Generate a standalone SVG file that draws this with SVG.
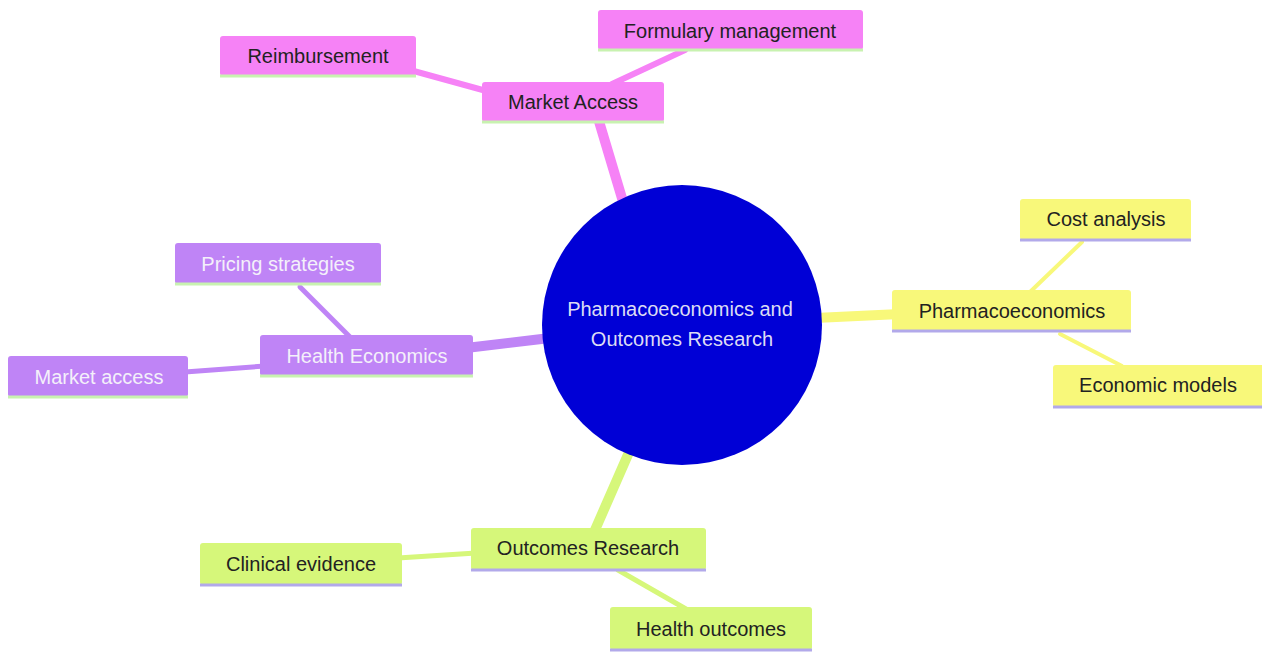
<svg xmlns="http://www.w3.org/2000/svg" width="1262" height="652" viewBox="0 0 1262 652">
<style>
text{font-family:"Liberation Sans",Arial,sans-serif;font-size:20px;text-anchor:middle;dominant-baseline:central}
.pk{fill:#f682f6}.pu{fill:#bf84f6}.ye{fill:#f8f87a}.gr{fill:#d6f77a}
.lpk{stroke:#f682f6}.lpu{stroke:#bf84f6}.lye{stroke:#f8f87a}.lgr{stroke:#d6f77a}
.edges line{stroke-linecap:round;fill:none}
.tpk,.tye,.tgr{fill:#222}.tpu{fill:#f4f0fa}
.blg{stroke:#c8f2b0;stroke-width:3}.bll{stroke:#b2a9ea;stroke-width:3}
</style>
<rect width="1262" height="652" fill="#ffffff"/>
<g id="connectors" class="edges">
<line class="lpk" x1="624" y1="205" x2="598" y2="118" stroke-width="10"/>
<line class="lpk" x1="410" y1="70" x2="490" y2="92" stroke-width="6"/>
<line class="lpk" x1="612" y1="84" x2="685" y2="50" stroke-width="6"/>
<line class="lpu" x1="466" y1="348" x2="550" y2="338" stroke-width="10"/>
<line class="lpu" x1="300" y1="287" x2="350" y2="337" stroke-width="5"/>
<line class="lpu" x1="185" y1="372" x2="265" y2="366" stroke-width="5"/>
<line class="lye" x1="815" y1="318" x2="900" y2="314" stroke-width="10"/>
<line class="lye" x1="1030" y1="292" x2="1082" y2="242" stroke-width="4"/>
<line class="lye" x1="1060" y1="334" x2="1122" y2="366" stroke-width="4"/>
<line class="lgr" x1="630" y1="450" x2="595" y2="530" stroke-width="10"/>
<line class="lgr" x1="398" y1="558" x2="476" y2="553" stroke-width="5"/>
<line class="lgr" x1="618" y1="570" x2="686" y2="609" stroke-width="5"/>
</g>
<g id="center">
<circle cx="682" cy="325" r="140" fill="#0000d6"/>
<text x="680" y="309" fill="#dcdcf4">Pharmacoeconomics and</text>
<text x="682" y="339" fill="#dcdcf4">Outcomes Research</text>
</g>
<g id="market-access">
<rect class="pk" x="482" y="82" width="182" height="40" rx="3"/>
<line class="blg" x1="482" y1="122" x2="664" y2="122"/>
<text class="tpk" x="573" y="102">Market Access</text>
</g>
<g id="reimbursement">
<rect class="pk" x="220" y="36" width="196" height="40" rx="3"/>
<line class="blg" x1="220" y1="76" x2="416" y2="76"/>
<text class="tpk" x="318" y="56">Reimbursement</text>
</g>
<g id="formulary-management">
<rect class="pk" x="598" y="10" width="265" height="40" rx="3"/>
<line class="blg" x1="598" y1="50" x2="863" y2="50"/>
<text class="tpk" x="730" y="31">Formulary management</text>
</g>
<g id="health-economics">
<rect class="pu" x="260" y="335" width="213" height="41" rx="3"/>
<line class="blg" x1="260" y1="376" x2="473" y2="376"/>
<text class="tpu" x="367" y="356">Health Economics</text>
</g>
<g id="pricing-strategies">
<rect class="pu" x="175" y="243" width="206" height="41" rx="3"/>
<line class="blg" x1="175" y1="284" x2="381" y2="284"/>
<text class="tpu" x="278" y="264">Pricing strategies</text>
</g>
<g id="market-access-2">
<rect class="pu" x="8" y="356" width="180" height="41" rx="3"/>
<line class="blg" x1="8" y1="397" x2="188" y2="397"/>
<text class="tpu" x="99" y="377">Market access</text>
</g>
<g id="pharmacoeconomics">
<rect class="ye" x="892" y="290" width="239" height="41" rx="3"/>
<line class="bll" x1="892" y1="331" x2="1131" y2="331"/>
<text class="tye" x="1012" y="311">Pharmacoeconomics</text>
</g>
<g id="cost-analysis">
<rect class="ye" x="1020" y="199" width="171" height="41" rx="3"/>
<line class="bll" x1="1020" y1="240" x2="1191" y2="240"/>
<text class="tye" x="1106" y="219">Cost analysis</text>
</g>
<g id="economic-models">
<rect class="ye" x="1053" y="365" width="211" height="42" rx="3"/>
<line class="bll" x1="1053" y1="407" x2="1262" y2="407"/>
<text class="tye" x="1158" y="385">Economic models</text>
</g>
<g id="outcomes-research">
<rect class="gr" x="471" y="528" width="235" height="42" rx="3"/>
<line class="bll" x1="471" y1="570" x2="706" y2="570"/>
<text class="tgr" x="588" y="548">Outcomes Research</text>
</g>
<g id="clinical-evidence">
<rect class="gr" x="200" y="543" width="202" height="42" rx="3"/>
<line class="bll" x1="200" y1="585" x2="402" y2="585"/>
<text class="tgr" x="301" y="564">Clinical evidence</text>
</g>
<g id="health-outcomes">
<rect class="gr" x="610" y="607" width="202" height="43" rx="3"/>
<line class="bll" x1="610" y1="650" x2="812" y2="650"/>
<text class="tgr" x="711" y="629">Health outcomes</text>
</g>
</svg>
